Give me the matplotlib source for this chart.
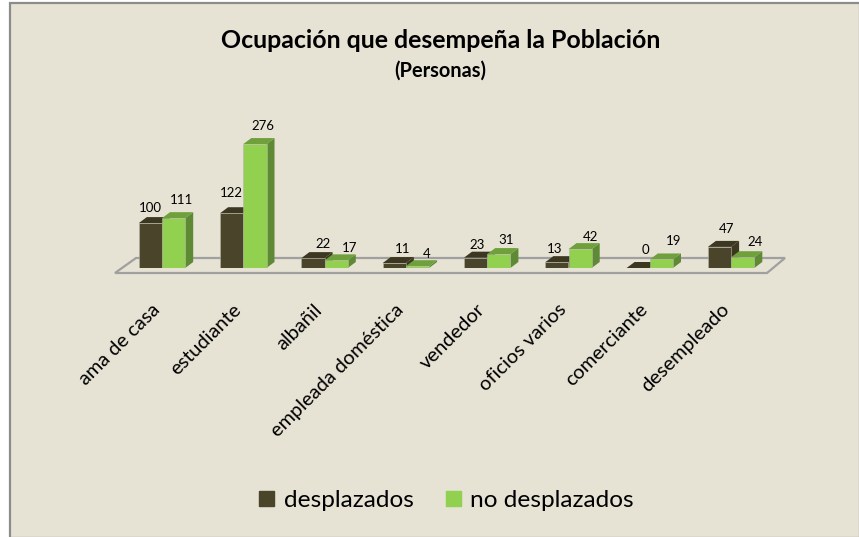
import numpy as np
import matplotlib
matplotlib.use("Agg")
import matplotlib.pyplot as plt
from matplotlib.lines import Line2D
from matplotlib.patches import Polygon
from matplotlib.transforms import ScaledTranslation

categorias = ["ama de casa", "estudiante", "albañil", "empleada doméstica",
              "vendedor", "oficios varios", "comerciante", "desempleado"]
desplazados = [100, 122, 22, 11, 23, 13, 0, 47]
no_desplazados = [111, 276, 17, 4, 31, 42, 19, 24]

W, H = 859, 537
BG = "#E6E2D4"
plt.rcParams["font.family"] = ["Lato", "DejaVu Sans"]

# label nudges in pixels, the original labels are not really centred
dx_dark = [0, 0, 10, 8, 2, -2, 7, 7]
dy_dark = [15, 20, 14, 14, 13, 13, 18, 18]
dx_green = [8, 8, 13, 9, 7, 10, 12, 12]
dy_green = [18, 18, 12, 12, 14, 12, 18, 15]


def fx(x):
    return x / W


def fy(y):
    return 1 - y / H


fig = plt.figure(figsize=(W / 100, H / 100), dpi=100, facecolor="white")

# chart area and its grey edge
fig.patches.append(Polygon([(fx(10), fy(3)), (fx(860), fy(3)), (fx(860), fy(538)), (fx(10), fy(538))],
                           closed=True, transform=fig.transFigure, facecolor=BG,
                           edgecolor="#8C8C8C", linewidth=1.6, zorder=-2))

# floor of the 3d chart
fig.patches.append(Polygon([(fx(115), fy(273)), (fx(767), fy(273)), (fx(785), fy(258)), (fx(136), fy(258))],
                           closed=True, transform=fig.transFigure, facecolor=BG,
                           edgecolor="#A0A0A0", linewidth=1.6, zorder=-1))

ax = fig.add_axes([fx(121.35), fy(268), 650.4 / W, (268 - 133.3) / H])
ax.patch.set_visible(False)
ax.set_xlim(-0.5, 7.5)
ax.set_ylim(0, 300)
for s in ax.spines.values():
    s.set_visible(False)
ax.yaxis.set_visible(False)

bar_w = 23.2 / 81.3
dx = 8 / 81.3
dy = 6 / (134.7 / 300)


def draw_bars(xs, vals, front, top, side, z):
    for x, v in zip(xs, vals):
        r = x + bar_w
        ax.fill([r, r + dx, r + dx, r], [0, dy, v + dy, v], color=side, lw=0, zorder=z, clip_on=False)
        ax.fill([x, r, r + dx, x + dx], [v, v, v + dy, v + dy], color=top, lw=0, zorder=z, clip_on=False)
    ax.bar(xs, vals, bar_w, align="edge", color=front, edgecolor="#B5B5A5", linewidth=0.4, zorder=z)


x = np.arange(len(categorias))
draw_bars(x - bar_w, desplazados, "#4A452A", "#3B3720", "#3B3720", 3)
draw_bars(x, no_desplazados, "#92D050", "#6FA03C", "#5E8A35", 4)

for i in range(len(categorias)):
    ax.annotate(str(desplazados[i]), (x[i] - bar_w / 2, desplazados[i]),
                xytext=(dx_dark[i], dy_dark[i]), textcoords="offset pixels",
                ha="center", va="center", fontsize=9.5, color="black", zorder=6)
    ax.annotate(str(no_desplazados[i]), (x[i] + bar_w / 2, no_desplazados[i]),
                xytext=(dx_green[i], dy_green[i]), textcoords="offset pixels",
                ha="center", va="center", fontsize=9.5, color="black", zorder=6)

ax.set_xticks(x)
ax.set_xticklabels(categorias, rotation=45, ha="right", va="center",
                   rotation_mode="anchor", fontsize=14.4)
ax.tick_params(axis="x", length=0, pad=28)
shift = ScaledTranslation(-0.05, 0, fig.dpi_scale_trans)
for lab in ax.get_xticklabels():
    lab.set_transform(lab.get_transform() + shift)

fig.text(fx(440.5), fy(41), "Ocupación que desempeña la Población", ha="center", va="center",
         fontsize=17.9, fontweight="bold", color="black")
fig.text(fx(440.5), fy(71), "(Personas)", ha="center", va="center",
         fontsize=14.4, fontweight="bold", color="black")

handles = [Line2D([], [], linestyle="none", marker="s", markersize=10.8, color="#4A452A"),
           Line2D([], [], linestyle="none", marker="s", markersize=10.8, color="#92D050")]
fig.legend(handles, ["desplazados", "no desplazados"], ncol=2, frameon=False,
           loc="center", bbox_to_anchor=(fx(445), fy(500)), fontsize=17.6,
           handlelength=0.8, handletextpad=0.3, columnspacing=1.2, labelcolor="black")

fig.savefig("out.png", dpi=100, facecolor="white")
